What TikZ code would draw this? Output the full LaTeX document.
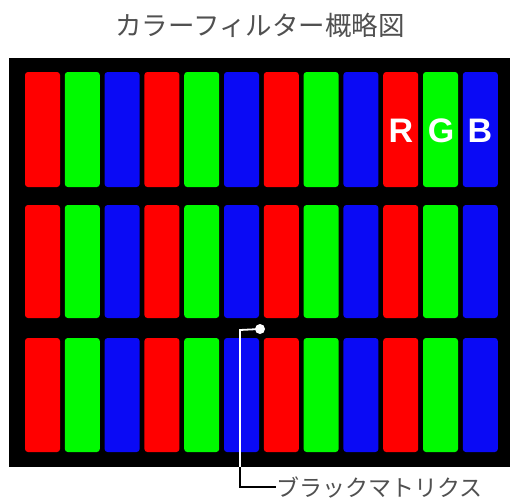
\documentclass[tikz,border=0pt]{standalone}
\usepackage{fontspec}
\newfontfamily\jpfont{Noto Sans CJK JP}
\newfontfamily\rgbfont{Liberation Sans}[BoldFont={Liberation Sans Bold}]
\definecolor{cfred}{RGB}{255,0,0}
\definecolor{cfgreen}{RGB}{0,250,0}
\definecolor{cfblue}{RGB}{10,10,245}
\definecolor{cfgray}{RGB}{80,80,80}
\begin{document}
\begin{tikzpicture}[x=1pt,y=-1pt,
  lbl/.style={text=white,font=\rgbfont\bfseries\fontsize{34}{34}\selectfont,inner sep=0pt},
  leader/.style={line width=1.8pt}]
\useasboundingbox (0,0) rectangle (510,503);
\fill[white] (0,0) rectangle (510,503);
\node[font=\jpfont\fontsize{26.5}{26.5}\selectfont,text=cfgray,inner sep=0pt] (title) at (260,25) {カラーフィルター概略図};
\fill[black] (9,58) rectangle (510,467);
\foreach \r/\yt/\yb in {1/72/187,2/205/318,3/338/452}{
  \foreach \i in {0,...,11}{
    \pgfmathtruncatemacro{\m}{mod(\i,3)}
    \ifcase\m \def\cc{cfred}\or \def\cc{cfgreen}\or \def\cc{cfblue}\fi
    \fill[\cc,rounded corners=3pt] ({25+39.8*\i},\yt) rectangle ({60+39.8*\i},\yb);
  }
}
\node[lbl] (R) at (401,131) {R};
\node[lbl] (G) at (441,131) {G};
\node[lbl] (B) at (480,131) {B};
\node[circle,fill=white,minimum size=10pt,inner sep=0pt] (dot) at (260,329) {};
\node[font=\jpfont\fontsize{23}{23}\selectfont,text=cfgray,inner sep=0pt,anchor=west] (bm) at (276,487) {ブラックマトリクス};
\coordinate (c1) at (240,330);
\coordinate (c2) at (240,467);
\draw[leader,white] (dot.center) -- (c1) -- (c2);
\draw[leader,black] (c2) |- (bm.west);
\end{tikzpicture}
\end{document}
